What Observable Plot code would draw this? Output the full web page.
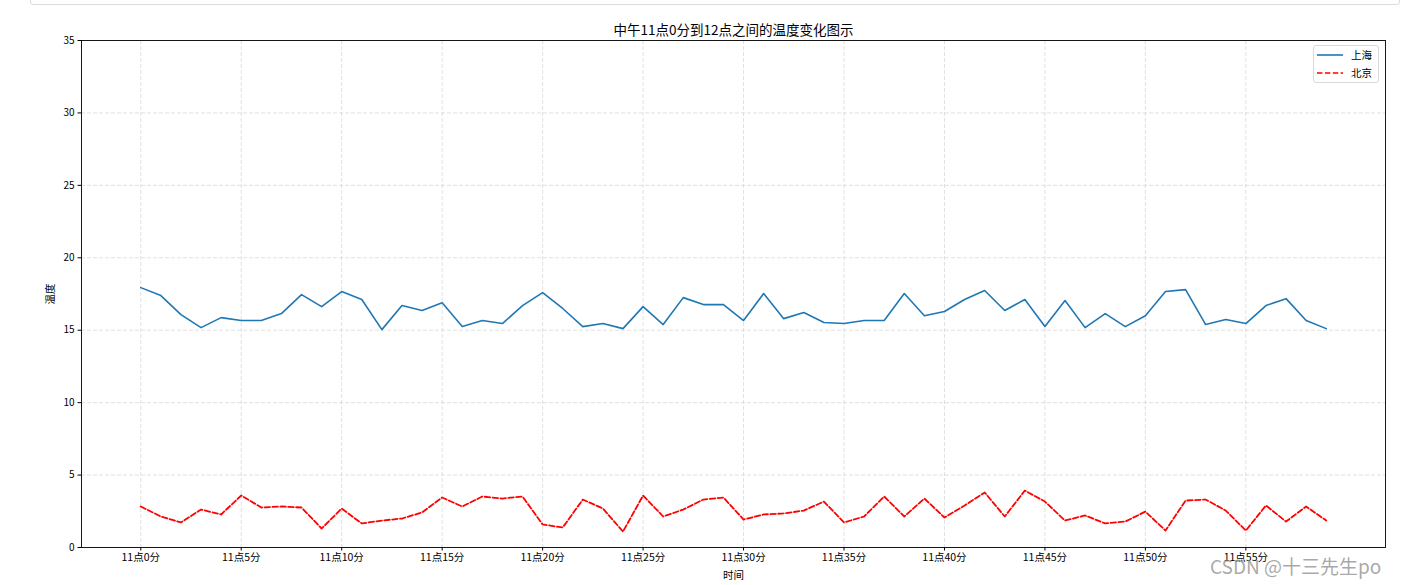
<!DOCTYPE html>
<html><head><meta charset="utf-8">
<script src="https://cdn.jsdelivr.net/npm/d3@7"></script>
<script src="https://cdn.jsdelivr.net/npm/@observablehq/plot@0.6"></script>
<style>
body{margin:0;background:#fff;}
#wrap{position:relative;width:1402px;height:585px;overflow:hidden;background:#fff;}
.topbar{position:absolute;left:30px;top:-10px;width:1368px;height:13px;border:1px solid #dcdcdc;border-radius:3px;}
.legend{position:absolute;left:1313px;top:45px;width:64px;height:36px;border:1px solid #d9d9d9;border-radius:3px;background:rgba(255,255,255,0.8);}
.wm{position:absolute;left:1210px;top:552px;font-family:'Noto Sans CJK SC',sans-serif;font-size:19px;color:rgba(140,140,140,0.75);white-space:nowrap;}
</style>
</head><body>
<div id="wrap"><div class="topbar"></div></div>
<script>
const titleText = "中午11点0分到12点之间的温度变化图示";
const xLabel = "时间";
const yLabel = "温度";
const seriesNames = ["上海", "北京"];
const seriesColors = ["#1f77b4", "#ff0000"];
const shanghai = [17.94,17.39,16.08,15.18,15.87,15.67,15.67,16.15,17.46,16.63,
  17.67,17.12,15.04,16.70,16.36,16.90,15.25,15.67,15.46,16.70,
  17.60,16.50,15.25,15.46,15.11,16.63,15.39,17.25,16.77,16.77,
  15.67,17.53,15.80,16.22,15.53,15.46,15.67,15.67,17.53,16.00,
  16.29,17.12,17.74,16.36,17.12,15.25,17.05,15.18,16.15,15.25,
  16.00,17.67,17.80,15.39,15.74,15.46,16.70,17.18,15.67,15.11];
const beijing = [2.83,2.14,1.73,2.62,2.28,3.59,2.76,2.83,2.76,1.31,
  2.69,1.66,1.86,2.00,2.42,3.45,2.83,3.52,3.38,3.52,
  1.59,1.38,3.31,2.69,1.10,3.59,2.14,2.62,3.31,3.45,
  1.93,2.28,2.35,2.55,3.17,1.73,2.14,3.52,2.14,3.38,
  2.07,2.90,3.80,2.14,3.93,3.17,1.86,2.21,1.66,1.79,
  2.48,1.17,3.24,3.31,2.55,1.17,2.90,1.79,2.83,1.86];
const xTickValues = [0,5,10,15,20,25,30,35,40,45,50,55];
const xTickLabels = ["11点0分","11点5分","11点10分","11点15分","11点20分","11点25分","11点30分","11点35分","11点40分","11点45分","11点50分","11点55分"];
const yTickValues = [0,5,10,15,20,25,30,35];

const rowsSH = shanghai.map((v, i) => ({m: i, t: v}));
const rowsBJ = beijing.map((v, i) => ({m: i, t: v}));

const font = "'Noto Sans CJK SC','Noto Sans',sans-serif";
const chart = Plot.plot({
  width: 1402, height: 585,
  marginLeft: 81, marginRight: 17, marginTop: 40, marginBottom: 38,
  style: {fontFamily: font, fontSize: "10px", color: "#000", background: "transparent", overflow: "visible"},
  x: {domain: [-2.95, 61.95], label: null},
  y: {domain: [0, 35], label: null},
  marks: [
    Plot.gridX(xTickValues, {stroke: "#d8d8d8", strokeOpacity: 1, strokeWidth: 0.8, strokeDasharray: "4,2"}),
    Plot.gridY(yTickValues, {stroke: "#d8d8d8", strokeOpacity: 1, strokeWidth: 0.8, strokeDasharray: "4,2"}),
    Plot.line(rowsSH, {x: "m", y: "t", stroke: seriesColors[0], strokeWidth: 1.6}),
    Plot.line(rowsBJ, {x: "m", y: "t", stroke: seriesColors[1], strokeWidth: 1.8, strokeDasharray: "5.5,2.4"}),
    Plot.frame({stroke: "#000", strokeWidth: 0.9}),
    Plot.axisX(xTickValues, {tickSize: 3.5, tickPadding: 3, tickFormat: d => xTickLabels[xTickValues.indexOf(d)], fill: "#000", stroke: "#000", label: null, fontSize: 10.5}),
    Plot.axisY(yTickValues, {tickSize: 3.5, tickPadding: 3.5, fill: "#000", stroke: "#000", label: null, fontSize: 10}),
    Plot.text([titleText], {frameAnchor: "top", dy: -15, fontSize: 13.5, fill: "#000"}),
    Plot.text([xLabel], {frameAnchor: "bottom", dy: 31, fontSize: 10.5, fill: "#000"}),
    Plot.text([yLabel], {frameAnchor: "left", dx: -31, rotate: -90, textAnchor: "middle", fontSize: 10.5, fill: "#000"})
  ]
});
const wrap = document.getElementById("wrap");
chart.style.position = "absolute";
chart.style.left = "0px";
chart.style.top = "0px";
wrap.appendChild(chart);

// legend
const leg = document.createElement("div");
leg.className = "legend";
const ls = d3.create("svg").attr("width", 64).attr("height", 36).style("position","absolute").style("left","0").style("top","0");
seriesNames.forEach((name, i) => {
  const y = 9 + i * 18;
  ls.append("line").attr("x1", 3).attr("x2", 29).attr("y1", y).attr("y2", y)
    .attr("stroke", seriesColors[i]).attr("stroke-width", 1.6)
    .attr("stroke-dasharray", i === 1 ? "5.5,2.4" : null);
  ls.append("text").attr("x", 37).attr("y", y).attr("dy", "0.35em")
    .attr("font-family", font).attr("font-size", 10.5).attr("fill", "#000").text(name);
});
leg.appendChild(ls.node());
wrap.appendChild(leg);

const wm = document.createElement("div");
wm.className = "wm";
wm.textContent = "CSDN @十三先生po";
wrap.appendChild(wm);
</script>
</body></html>
